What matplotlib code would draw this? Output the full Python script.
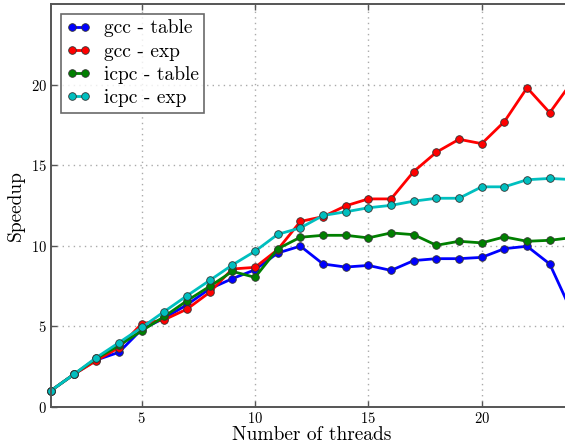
import matplotlib
matplotlib.use("Agg")
import matplotlib.pyplot as plt
from matplotlib.ticker import FixedLocator

plt.rcParams["font.family"] = ["cmr10", "DejaVu Serif"]
plt.rcParams["axes.formatter.use_mathtext"] = True
plt.rcParams["mathtext.fontset"] = "cm"

threads = list(range(1, 25))

gcc_table = [1.0, 2.0, 2.9, 3.38, 4.8, 5.5, 6.33, 7.32, 7.95, 8.5, 9.54, 9.97,
             8.86, 8.67, 8.77, 8.46, 9.07, 9.19, 9.19, 9.27, 9.81, 9.96, 8.86, 5.8]
gcc_exp = [1.0, 2.0, 2.86, 3.67, 5.15, 5.4, 6.06, 7.1, 8.55, 8.65, 9.75, 11.5,
           11.8, 12.47, 12.9, 12.9, 14.6, 15.8, 16.6, 16.33, 17.7, 19.8, 18.25, 20.2]
icpc_table = [1.0, 2.0, 3.0, 3.8, 4.71, 5.6, 6.58, 7.47, 8.4, 8.03, 9.8, 10.52,
              10.64, 10.64, 10.48, 10.79, 10.68, 10.02, 10.27, 10.17, 10.54, 10.27, 10.33, 10.5]
icpc_exp = [1.0, 2.0, 3.05, 3.98, 4.92, 5.91, 6.89, 7.84, 8.8, 9.65, 10.7, 11.1,
            11.87, 12.1, 12.35, 12.5, 12.76, 12.94, 12.94, 13.65, 13.65, 14.09, 14.17, 14.1]

series = [
    ("gcc - table", gcc_table, "#0000ff"),
    ("gcc - exp", gcc_exp, "#ff0000"),
    ("icpc - table", icpc_table, "#008000"),
    ("icpc - exp", icpc_exp, "#00bfbf"),
]

W, H = 565, 444
fig = plt.figure(figsize=(W / 100, H / 100), dpi=100)

# axes: x=1 at px 51, 22.67 px per thread; y 0..25 from px 406.7 up to px 4
x_left, px_per_x = 51.0, 22.67
x_max = 24
y_bottom, y_top = 406.7, 4.0
ax = fig.add_axes([x_left / W, (H - y_bottom) / H,
                   (x_max - 1) * px_per_x / W, (y_bottom - y_top) / H])

for label, vals, col in series:
    ax.plot(threads, vals, color=col, lw=2.0, marker="o", ms=5.5,
            mfc=col, mec="#333333", mew=0.6, label=label, clip_on=False)

ax.set_xlim(1, x_max)
ax.set_ylim(0, 25)
ax.xaxis.set_major_locator(FixedLocator([5, 10, 15, 20]))
ax.yaxis.set_major_locator(FixedLocator([0, 5, 10, 15, 20]))
ax.grid(True, color="#aaaaaa", linestyle=(0, (1, 3)), linewidth=1.0)
ax.tick_params(direction="in", top=True, right=True, length=4, width=1,
               color="#555555", labelsize=10.5, pad=3)
for sp in ax.spines.values():
    sp.set_color("#555555")
    sp.set_linewidth(1.4)

ax.set_xlabel("Number of threads", fontsize=14, labelpad=0)
ax.set_ylabel("Speedup", fontsize=14, labelpad=4)

leg = ax.legend(loc="upper left", fontsize=14, frameon=True, fancybox=False,
                numpoints=2, borderpad=0.3, labelspacing=0.27,
                handlelength=1.25, handletextpad=0.65, borderaxespad=0.5)
leg.get_frame().set_edgecolor("#444444")
leg.get_frame().set_linewidth(1.2)

fig.savefig("out.png", dpi=100)
